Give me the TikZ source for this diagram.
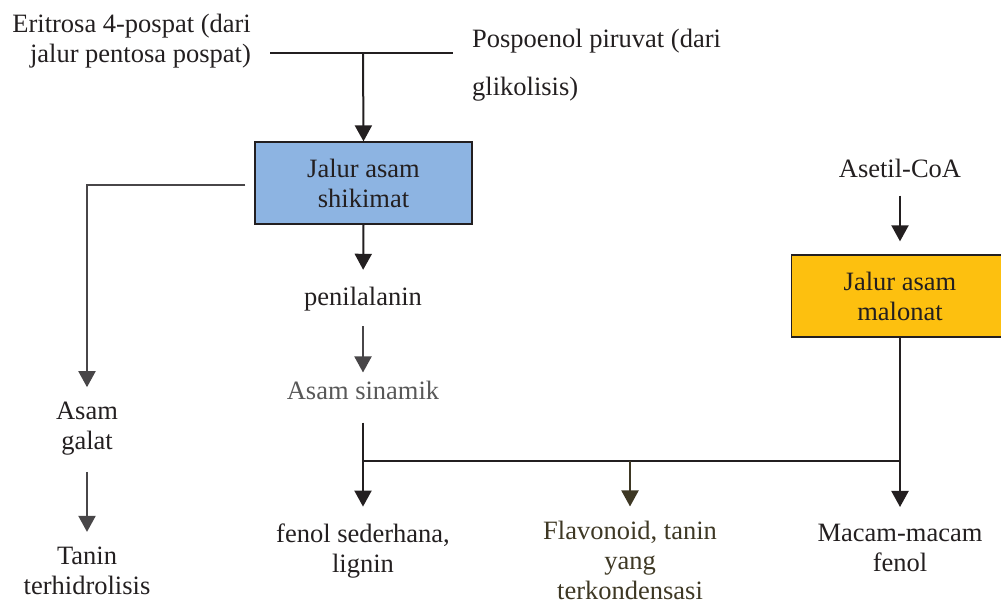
\documentclass[tikz,border=0pt]{standalone}
\usepackage{fontspec}
\setmainfont{Liberation Serif}
\usepackage{tikz}
\usetikzlibrary{positioning,arrows.meta,calc}
\definecolor{shikimatblue}{RGB}{141,180,226}
\definecolor{malonatyellow}{RGB}{253,192,15}
\definecolor{inkgray}{RGB}{35,31,32}
\definecolor{midgray}{RGB}{72,70,72}
\definecolor{softgray}{RGB}{88,88,88}
\definecolor{olivegray}{RGB}{62,56,36}

\begin{document}
\begin{tikzpicture}[
    x=1pt, y=-1pt,
    every node/.style={font=\fontsize{26.5}{30}\selectfont, text=inkgray, align=center, inner sep=0pt},
    pathbox/.style={rectangle, draw=inkgray, line width=1.3pt, minimum width=217pt, minimum height=82pt},
    flow/.style={draw=inkgray, line width=2pt},
    flowarrow/.style={flow, -{Triangle[width=17pt,length=16pt]}},
    greyarrow/.style={flowarrow, draw=midgray}
]
\useasboundingbox (0,0) rectangle (1001,604);

\node [anchor=east, align=right] (eritrosa) at (251,41) {Eritrosa 4-pospat (dari\\jalur pentosa pospat)};
\node [anchor=west, align=left] (pospo) at (472,65) {Pospoenol piruvat (dari\\[18pt]glikolisis)};
\coordinate (merge) at (363,53);

\node [pathbox, fill=shikimatblue] (shikimat) at (363.5,183) {Jalur asam\\shikimat};
\node (penil) at (363,299) {penilalanin};
\node [text=softgray] (sinamik) at (363,390) {Asam sinamik};

\node (galat) at (87,429) {Asam\\galat};
\node (tanin) at (87,571) {Tanin\\terhidrolisis};

\node (asetil) at (900,168) {Asetil-CoA};
\node [pathbox, fill=malonatyellow] (malonat) at (900,296) {Jalur asam\\malonat};

\coordinate (mix) at (630,461);
\node (fenol) at (363,551) {fenol sederhana,\\lignin};
\node [text=olivegray] (flavo) at (630,560) {Flavonoid, tanin\\yang\\terkondensasi};
\node (macam) at (900,548) {Macam-macam\\fenol};

\draw [flow] ([xshift=19pt]eritrosa.east |- merge) -- ([xshift=-19pt]pospo.west |- merge);
\draw [flowarrow] (merge) -- (shikimat.north);
\draw [flowarrow, shorten >=17pt] (shikimat.south) -- (penil.north);
\draw [greyarrow, shorten <=15pt, shorten >=8pt] (penil.south) -- (sinamik.north);
\draw [flowarrow, shorten <=23pt, shorten >=17pt] (sinamik.south) -- (fenol.north);
\draw [flow] (sinamik |- mix) -- (malonat |- mix);
\draw [flowarrow, draw=olivegray, shorten >=14pt] (mix) -- (flavo.north);

\draw [greyarrow, shorten >=15pt] ([xshift=-9pt,yshift=-2pt]shikimat.west) -| (galat.north);
\draw [greyarrow, shorten <=16pt, shorten >=15pt] (galat.south) -- (tanin.north);

\draw [flowarrow, shorten <=18pt, shorten >=13pt] (asetil.south) -- (malonat.north);
\draw [flowarrow, shorten >=17pt] (malonat.south) -- (macam.north);
\end{tikzpicture}
\end{document}
